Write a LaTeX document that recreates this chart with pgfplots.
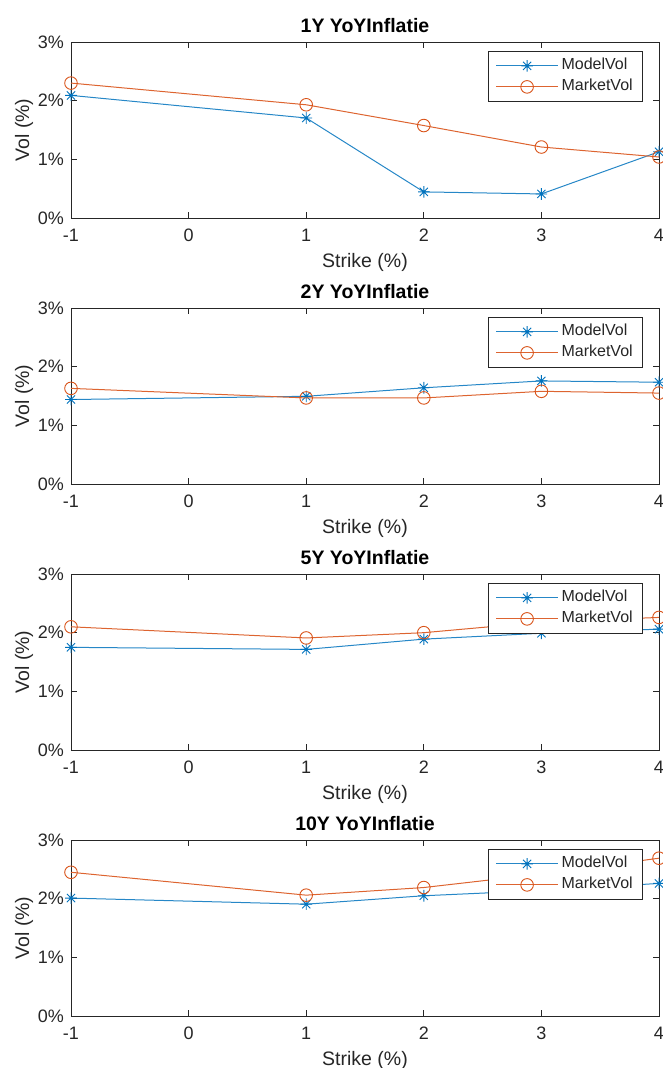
\documentclass[border=0pt]{standalone}
\usepackage{pgfplots}
\pgfplotsset{compat=1.18}
\usepackage{fontspec}
\setmainfont{Liberation Sans}
\definecolor{mblue}{RGB}{0,114,189}
\definecolor{morange}{RGB}{217,83,25}
\definecolor{axgray}{RGB}{38,38,38}
\pgfdeclareplotmark{matast}{%
  \pgfpathmoveto{\pgfqpoint{0pt}{\pgfplotmarksize}}\pgfpathlineto{\pgfqpoint{0pt}{-\pgfplotmarksize}}%
  \pgfpathmoveto{\pgfqpoint{\pgfplotmarksize}{0pt}}\pgfpathlineto{\pgfqpoint{-\pgfplotmarksize}{0pt}}%
  \pgfpathmoveto{\pgfqpoint{.707\pgfplotmarksize}{.707\pgfplotmarksize}}\pgfpathlineto{\pgfqpoint{-.707\pgfplotmarksize}{-.707\pgfplotmarksize}}%
  \pgfpathmoveto{\pgfqpoint{.707\pgfplotmarksize}{-.707\pgfplotmarksize}}\pgfpathlineto{\pgfqpoint{-.707\pgfplotmarksize}{.707\pgfplotmarksize}}%
  \pgfusepathqstroke}
\pgfplotsset{
  volstyle/.style={
    scale only axis, width=588pt, height=176pt, anchor=south west,
    xmin=-1, xmax=4, ymin=0, ymax=3,
    xtick={-1,0,1,2,3,4}, xticklabels={-1,0,1,2,3,4},
    ytick={0,1,2,3}, yticklabels={0\%,1\%,2\%,3\%},
    tick align=inside, xtick pos=both, ytick pos=both,
    major tick length=6pt,
    axis line style={axgray, line width=0.8pt},
    every tick/.style={axgray, line width=0.8pt},
    tick label style={font=\fontsize{18}{18}\selectfont, text=axgray},
    xticklabel style={anchor=center, yshift=-17pt},
    yticklabel style={anchor=east, inner sep=0pt, xshift=-7pt},
    xlabel={Strike (\%)}, ylabel={Vol (\%)},
    every axis x label/.style={at={(axis description cs:0.5,0)}, yshift=-44pt, anchor=center, font=\fontsize{19.5}{20}\selectfont, text=axgray},
    every axis y label/.style={at={(axis description cs:0,0.5)}, xshift=-47pt, rotate=90, anchor=center, font=\fontsize{19.5}{20}\selectfont, text=axgray},
    every axis title/.style={at={(axis description cs:0.5,1)}, yshift=16pt, anchor=center, font=\bfseries\fontsize{19.5}{20}\selectfont, text=black},
    legend style={at={(rel axis cs:0.973,0.949)}, anchor=north east, draw=axgray, line width=0.8pt,
      font=\fontsize{16}{16}\selectfont, text=axgray, fill=white, inner xsep=7pt, inner ysep=4pt, row sep=0pt,
      nodes={inner xsep=3pt, inner ysep=2.5pt, text height=12pt, text depth=4pt}},
    legend cell align=left,
    legend image code/.code={\draw[mark repeat=2,mark phase=2] plot coordinates {(0pt,0pt) (31pt,0pt) (62pt,0pt)};},
    clip mode=individual,
  },
  modelvol/.style={color=mblue!85, line width=1pt, mark=matast, mark size=5.8pt, mark options={line width=0.9pt, color=mblue}},
  marketvol/.style={color=morange!90, line width=1pt, mark=o, mark size=6.3pt, mark options={line width=0.9pt, fill=none, color=morange}},
}
\begin{document}
\begin{tikzpicture}
\useasboundingbox (0pt,0pt) rectangle (663pt,-1068pt);
% Panel 1
\begin{axis}[volstyle, at={(71pt,-218pt)}, title={1Y YoYInflatie}]
\addplot[modelvol] coordinates {(-1,2.09) (1,1.705) (2,0.445) (3,0.41) (4,1.13)};
\addplot[marketvol] coordinates {(-1,2.30) (1,1.93) (2,1.576) (3,1.21) (4,1.04)};
\legend{ModelVol\hspace{4pt},MarketVol\hspace{4pt}}
\end{axis}
% Panel 2
\begin{axis}[volstyle, at={(71pt,-484pt)}, title={2Y YoYInflatie}]
\addplot[modelvol] coordinates {(-1,1.44) (1,1.495) (2,1.64) (3,1.757) (4,1.735)};
\addplot[marketvol] coordinates {(-1,1.63) (1,1.467) (2,1.467) (3,1.58) (4,1.55)};
\legend{ModelVol\hspace{4pt},MarketVol\hspace{4pt}}
\end{axis}
% Panel 3
\begin{axis}[volstyle, at={(71pt,-750pt)}, title={5Y YoYInflatie}]
\addplot[modelvol] coordinates {(-1,1.75) (1,1.715) (2,1.89) (3,1.99) (4,2.06)};
\addplot[marketvol] coordinates {(-1,2.10) (1,1.91) (2,2.00) (3,2.18) (4,2.26)};
\legend{ModelVol\hspace{4pt},MarketVol\hspace{4pt}}
\end{axis}
% Panel 4
\begin{axis}[volstyle, at={(71pt,-1016pt)}, title={10Y YoYInflatie}]
\addplot[modelvol] coordinates {(-1,2.01) (1,1.906) (2,2.05) (3,2.14) (4,2.26)};
\addplot[marketvol] coordinates {(-1,2.45) (1,2.06) (2,2.19) (3,2.42) (4,2.69)};
\legend{ModelVol\hspace{4pt},MarketVol\hspace{4pt}}
\end{axis}
\end{tikzpicture}
\end{document}
